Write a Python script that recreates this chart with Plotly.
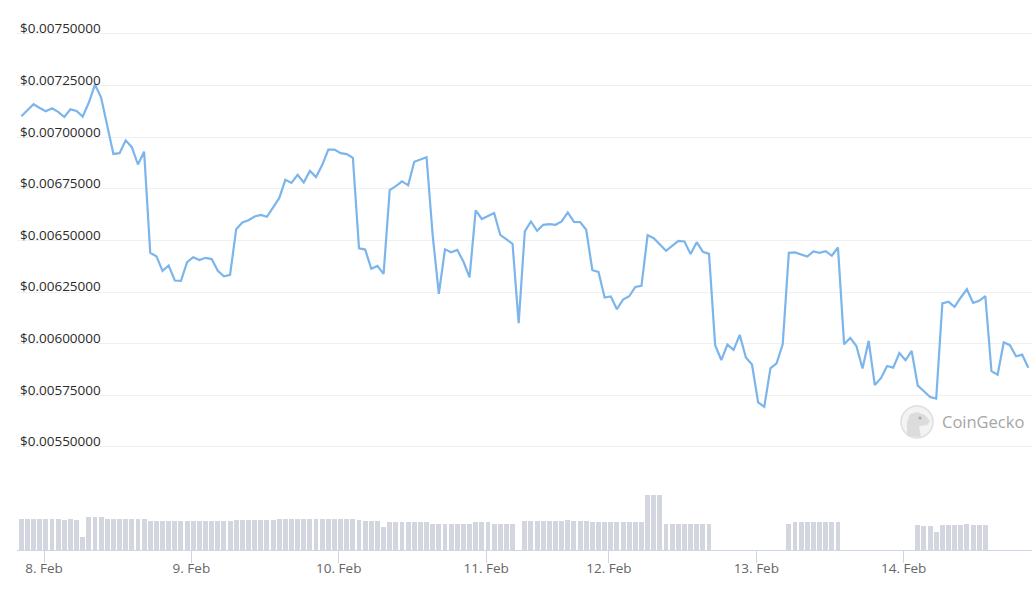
"""
Price + volume chart (CoinGecko style) for 8-14 Feb.
Ordinal x axis: one slot per hourly data point, day ticks placed on slots.
"""
import plotly.graph_objects as go

# hourly price in USD (one value per slot)
prices = [
    0.007102, 0.007131, 0.007160, 0.007142, 0.007126, 0.007140, 0.007123, 0.007098,
    0.007135, 0.007127, 0.007100, 0.007168, 0.007255, 0.007192, 0.007048, 0.006919,
    0.006923, 0.006985, 0.006952, 0.006868, 0.006930, 0.006440, 0.006424, 0.006353,
    0.006379, 0.006306, 0.006305, 0.006395, 0.006419, 0.006405, 0.006416, 0.006410,
    0.006353, 0.006327, 0.006334, 0.006555, 0.006587, 0.006598, 0.006616, 0.006624,
    0.006615, 0.006662, 0.006705, 0.006794, 0.006779, 0.006818, 0.006781, 0.006837,
    0.006807, 0.006865, 0.006940, 0.006940, 0.006923, 0.006918, 0.006900, 0.006462,
    0.006456, 0.006363, 0.006377, 0.006338, 0.006744, 0.006763, 0.006786, 0.006767,
    0.006881, 0.006892, 0.006903, 0.006524, 0.006242, 0.006457, 0.006443, 0.006454,
    0.006398, 0.006321, 0.006646, 0.006604, 0.006617, 0.006633, 0.006527, 0.006504,
    0.006484, 0.006100, 0.006544, 0.006592, 0.006547, 0.006576, 0.006579, 0.006576,
    0.006592, 0.006636, 0.006590, 0.006589, 0.006552, 0.006356, 0.006348, 0.006224,
    0.006229, 0.006167, 0.006214, 0.006230, 0.006275, 0.006280, 0.006526, 0.006511,
    0.006479, 0.006450, 0.006474, 0.006498, 0.006495, 0.006434, 0.006492, 0.006445,
    0.006435, 0.005993, 0.005921, 0.005996, 0.005970, 0.006043, 0.005933, 0.005899,
    0.005716, 0.005694, 0.005881, 0.005905, 0.005997, 0.006440, 0.006442, 0.006431,
    0.006422, 0.006447, 0.006440, 0.006448, 0.006426, 0.006466, 0.005997, 0.006028,
    0.005989, 0.005880, 0.006014, 0.005800, 0.005833, 0.005892, 0.005884, 0.005955,
    0.005920, 0.005965, 0.005797, 0.005770, 0.005742, 0.005734, 0.006195, 0.006203,
    0.006178, 0.006224, 0.006264, 0.006198, 0.006208, 0.006230, 0.005867, 0.005850,
    0.006007, 0.005993, 0.005939, 0.005947, 0.005884,
]

# hourly volume (thousand USD, relative), 0 = no volume reported
volumes = (
    [31.3] * 7 + [30.0, 31.3, 30.0, 12.7] + [33.0] * 3 + [31.3] * 7
    + [29.0] * 14 + [30.0] * 7 + [31.3] * 13 + [30.0] + [29.0] * 3 + [22.7]
    + [27.7] * 7 + [26.0] * 2 + [26.3] * 5 + [27.7] * 3 + [26.3] * 4 + [0]
    + [29.0] * 7 + [30.0] + [29.0] * 3 + [27.7] * 9 + [55.0] * 3 + [26.3] * 8
    + [0] * 12 + [26.3] + [27.7] * 8 + [0] * 12
    + [25.0, 24.0, 24.0, 17.7, 25.0, 25.0, 25.0, 25.0, 26.3, 25.0, 25.0, 25.0]
    + [0] * 7
)

slots = list(range(len(prices)))

# slot where each day starts, and its label
day_slots = [3.7, 27.7, 51.7, 75.7, 95.7, 119.7, 143.7]
day_labels = ["8. Feb", "9. Feb", "10. Feb", "11. Feb", "12. Feb", "13. Feb", "14. Feb"]

price_ticks = [0.0055, 0.00575, 0.0060, 0.00625, 0.0065, 0.00675, 0.0070, 0.00725, 0.0075]

FONT = "Open Sans, Noto Sans, sans-serif"
X_RANGE = [-0.7, 164.6]

# figure geometry, used only to place the watermark
W, H = 1032, 606
ML, MR, MT, MB = 17, 0, 10, 56


def px_to_paper(x, y):
    return (x - ML) / (W - ML - MR), (H - MB - y) / (H - MT - MB)


fig = go.Figure()

fig.add_trace(go.Bar(
    x=slots,
    y=volumes,
    width=0.8,
    marker=dict(color="#d3d6de", line=dict(width=0)),
    xaxis="x",
    yaxis="y2",
    hoverinfo="skip",
    name="Volume",
))

fig.add_trace(go.Scatter(
    x=slots,
    y=prices,
    mode="lines",
    line=dict(color="#7cb5ec", width=2.2),
    xaxis="x2",
    yaxis="y",
    name="Price",
))

fig.update_layout(
    width=W,
    height=H,
    margin=dict(l=ML, r=MR, t=MT, b=MB),
    paper_bgcolor="white",
    plot_bgcolor="white",
    showlegend=False,
    bargap=0,
    font=dict(family=FONT),
    xaxis=dict(
        domain=[0, 1],
        anchor="y2",
        range=X_RANGE,
        tickvals=day_slots,
        ticktext=day_labels,
        ticks="outside",
        ticklen=12,
        tickwidth=1,
        tickcolor="#ccd6eb",
        ticklabelstandoff=-6,
        showline=True,
        linecolor="#ccd6eb",
        linewidth=1,
        showgrid=False,
        zeroline=False,
        tickfont=dict(size=13.5, color="#666666"),
    ),
    xaxis2=dict(
        domain=[0, 1],
        anchor="y",
        range=X_RANGE,
        matches="x",
        visible=False,
    ),
    yaxis=dict(
        domain=[0.1667, 1],
        anchor="x2",
        range=[0.005437, 0.0076162],
        tickvals=price_ticks,
        tickformat="$.8f",
        ticklabelposition="inside top",
        ticklabelshift=4,
        tickfont=dict(size=13.5, color="#2b2b2b"),
        showgrid=True,
        gridcolor="#f0f0f0",
        gridwidth=1,
        zeroline=False,
        showline=False,
    ),
    yaxis2=dict(
        domain=[0, 0.1667],
        anchor="x",
        range=[0, 90],
        showgrid=False,
        zeroline=False,
        showticklabels=False,
        showline=False,
    ),
)

# CoinGecko watermark: round badge with a gecko head, then the name
cx0, cy0 = px_to_paper(901, 438)
cx1, cy1 = px_to_paper(933, 406)
fig.add_shape(
    type="circle", xref="paper", yref="paper",
    x0=cx0, x1=cx1, y0=cy0, y1=cy1,
    fillcolor="#f3f3f3", line=dict(color="#dedede", width=1.5),
    layer="above",
)
gecko = [(907, 436), (907, 422), (910, 414), (917, 412), (925, 415), (930, 421),
         (927, 425), (919, 426), (921, 437)]
pts = [px_to_paper(x, y) for x, y in gecko]
path = "M " + " L ".join(f"{x:.4f},{y:.4f}" for x, y in pts) + " Z"
fig.add_shape(
    type="path", xref="paper", yref="paper", path=path,
    fillcolor="#dcdcdc", line=dict(width=0), layer="above",
)
ex0, ey0 = px_to_paper(918.5, 419.5)
ex1, ey1 = px_to_paper(921.5, 416.5)
fig.add_shape(
    type="circle", xref="paper", yref="paper",
    x0=ex0, x1=ex1, y0=ey0, y1=ey1,
    fillcolor="#a8a8a8", line=dict(width=0), layer="above",
)
tx, ty = px_to_paper(940, 421)
fig.add_annotation(
    xref="paper", yref="paper", x=tx, y=ty,
    xanchor="left", yanchor="middle", showarrow=False,
    text="CoinGecko", font=dict(family=FONT, size=16.5, color="#a6a6a6"),
)

fig.write_html(
    "out.html",
    config={"displayModeBar": False},
    post_script="document.body.style.margin='0';",
)
